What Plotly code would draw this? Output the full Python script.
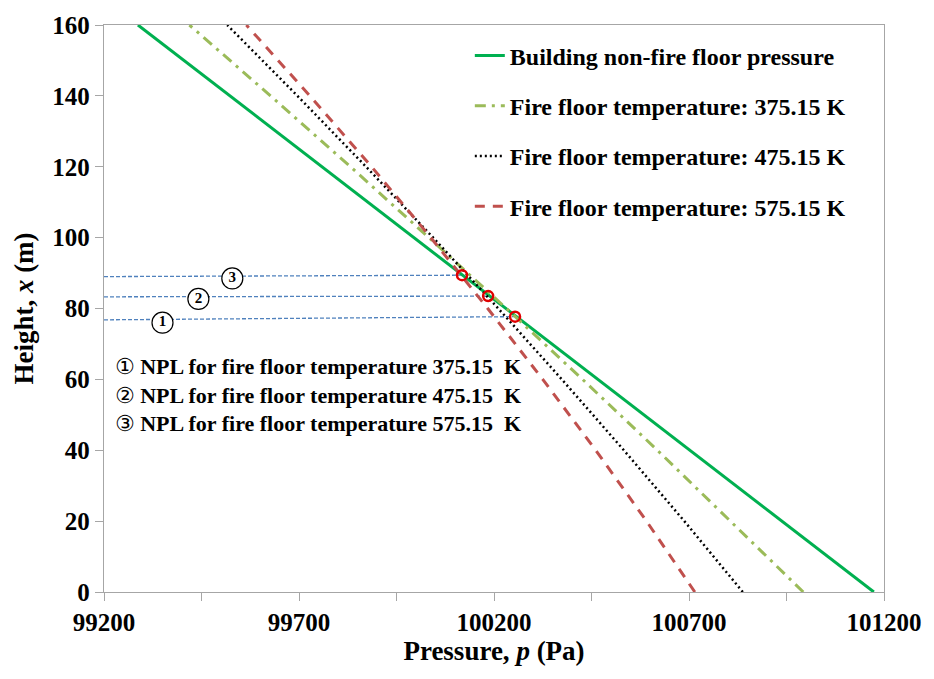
import plotly.graph_objects as go

# Height above ground (m)
heights = [0, 20, 40, 60, 80, 100, 120, 140, 160]

# Pressure profiles (Pa)
p_nonfire = [101174, 100938, 100702, 100466, 100230, 99994, 99759, 99523, 99287]
p_fire_375 = [100993, 100807, 100619, 100427, 100232, 100033, 99832, 99627, 99419]
p_fire_475 = [100838, 100688, 100533, 100374, 100211, 100044, 99872, 99696, 99516]
p_fire_575 = [100715, 100591, 100461, 100325, 100184, 100038, 99886, 99728, 99565]

# Neutral pressure levels (intersection points)
npl_pressure = [100254, 100185, 100118]
npl_height = [77.7, 83.5, 89.4]
guide_start_height = [76.8, 83.3, 89.0]
npl_temps = ["375.15", "475.15", "575.15"]
npl_marks = ["①", "②", "③"]

x_ticks = [99200, 99700, 100200, 100700, 101200]
x_tick_text = ["99200", "99700", "100200", "100700", "101200"]
y_ticks = [0, 20, 40, 60, 80, 100, 120, 140, 160]

SERIF = "Liberation Serif, Times New Roman, serif"
CIRC = "DejaVu Sans"

fig = go.Figure()

# Guide lines from the axis to each NPL
for i in range(3):
    fig.add_trace(go.Scatter(
        x=[x_ticks[0], npl_pressure[i]], y=[guide_start_height[i], npl_height[i]],
        mode="lines", line=dict(color="#4f81bd", width=1.3, dash="4px,2px"),
        showlegend=False, hoverinfo="skip"))

series = [
    ("Building non-fire floor pressure", p_nonfire, dict(color="#00b050", width=3)),
    ("Fire floor temperature: 375.15 K", p_fire_375, dict(color="#9bbb59", width=3, dash="11px,6px,3px,6px")),
    ("Fire floor temperature: 475.15 K", p_fire_475, dict(color="#000000", width=2.5, dash="2px,3px")),
    ("Fire floor temperature: 575.15 K", p_fire_575, dict(color="#c0504d", width=3, dash="10px,8px")),
]
for k, (name, xs, ln) in enumerate(series):
    fig.add_trace(go.Scatter(x=xs, y=heights, mode="lines", name=name, line=ln,
                             legendgroup=f"g{k}"))

# NPL markers
fig.add_trace(go.Scatter(
    x=npl_pressure, y=npl_height, mode="markers",
    marker=dict(symbol="circle-open", size=10, color="#e00000", line=dict(width=2.5, color="#e00000")),
    showlegend=False, hoverinfo="skip"))

# Numbered tags on guide lines
tag_x = [99350, 99442, 99529]
tag_y = [76.0, 82.7, 88.5]
fig.add_trace(go.Scatter(
    x=tag_x, y=tag_y, mode="markers+text", text=["1", "2", "3"],
    textposition="middle center",
    textfont=dict(family=SERIF, size=15, color="black", weight="bold"),
    marker=dict(symbol="circle", size=21, color="white", line=dict(width=1.2, color="black")),
    showlegend=False, hoverinfo="skip"))

# NPL descriptions (one block, one line per temperature)
lines = [
    f"<span style='font-family:\"{CIRC}\"; font-weight:normal'>{npl_marks[i]}</span>"
    f" NPL for fire floor temperature {npl_temps[i]}\u00a0\u00a0K"
    for i in range(3)
]
fig.add_annotation(
    xref="paper", yref="paper", x=0.012, y=0.347,
    xanchor="left", yanchor="middle", align="left", showarrow=False,
    text="<br>".join(lines),
    font=dict(family=SERIF, size=22, color="black", weight="bold"))

axis_common = dict(
    showline=True, linecolor="#a6a6a6", linewidth=1.3, mirror=True,
    showgrid=False, zeroline=False, ticks="outside", ticklen=8, tickcolor="#a6a6a6",
    tickfont=dict(family=SERIF, size=25, color="black", weight="bold"),
)

fig.update_layout(
    width=934, height=679,
    margin=dict(l=104, r=46, t=19, b=87),
    plot_bgcolor="white", paper_bgcolor="white",
    xaxis=dict(range=[99200, 101200], tickvals=x_ticks, ticktext=x_tick_text,
               minor=dict(dtick=250, tick0=99200, ticks="outside", ticklen=8, tickcolor="#a6a6a6"),
               title=dict(text="Pressure, <i>p</i> (Pa)", standoff=4,
                          font=dict(family=SERIF, size=27, color="black", weight="bold")),
               **axis_common),
    yaxis=dict(range=[0, 160], tickvals=y_ticks,
               title=dict(text="Height, <i>x</i> (m)", standoff=10,
                          font=dict(family=SERIF, size=27, color="black", weight="bold")),
               **axis_common),
    legend=dict(x=0.469, y=0.985, xanchor="left", yanchor="top",
                font=dict(family=SERIF, size=24, color="black", weight="bold"),
                traceorder="grouped", tracegroupgap=16, bgcolor="rgba(0,0,0,0)"),
)

fig.write_html("out.html")
